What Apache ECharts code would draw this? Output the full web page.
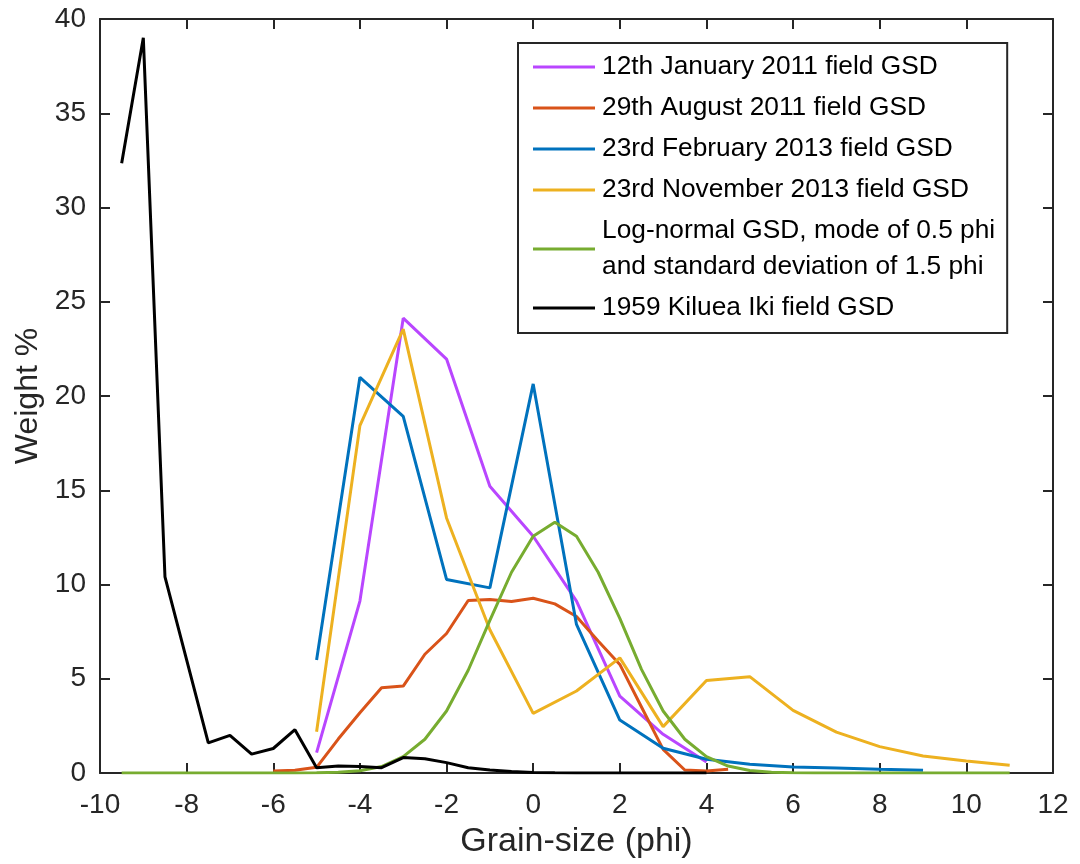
<!DOCTYPE html>
<html>
<head>
<meta charset="utf-8">
<script src="https://cdn.jsdelivr.net/npm/echarts@6/dist/echarts.min.js"></script>
<style>html,body{margin:0;padding:0;background:#fff}#c{width:1080px;height:864px}</style>
</head>
<body>
<div id="c"></div>
<script>
// ---- data ----
const seriesNames = [
  '12th January 2011 field GSD',
  '29th August 2011 field GSD',
  '23rd February 2013 field GSD',
  '23rd November 2013 field GSD',
  'Log-normal GSD, mode of 0.5 phi\nand standard deviation of 1.5 phi',
  '1959 Kiluea Iki field GSD'
];
const janX = [-5, -4, -3, -2, -1, 0, 1, 2, 3, 4];
const janY = [1.08, 9.12, 24.13, 21.96, 15.21, 12.56, 9.12, 4.08, 2.05, 0.58];

const augX = [-6, -5.5, -5, -4.5, -4, -3.5, -3, -2.5, -2, -1.5, -1, -0.5, 0, 0.5, 1, 1.5, 2, 2.5, 3, 3.5, 4, 4.5];
const augY = [0.1, 0.15, 0.3, 1.8, 3.2, 4.52, 4.61, 6.3, 7.4, 9.15, 9.2, 9.1, 9.27, 8.97, 8.3, 7.0, 5.76, 3.5, 1.25, 0.16, 0.1, 0.2];

const febX = [-5, -4, -3, -2, -1, 0, 1, 2, 3, 4, 5, 6, 7, 8, 9];
const febY = [5.99, 20.99, 18.92, 10.27, 9.82, 20.64, 7.88, 2.81, 1.31, 0.73, 0.46, 0.32, 0.27, 0.2, 0.14];

const novX = [-5, -4, -3, -2, -1, 0, 1, 2, 3, 4, 5, 6, 7, 8, 9, 10, 11];
const novY = [2.19, 18.43, 23.55, 13.53, 7.6, 3.16, 4.35, 6.11, 2.46, 4.91, 5.11, 3.32, 2.17, 1.40, 0.90, 0.64, 0.41];

const logX = [-9.5, -9, -8.5, -8, -7.5, -7, -6.5, -6, -5.5, -5, -4.5, -4, -3.5, -3, -2.5, -2, -1.5, -1, -0.5, 0, 0.5, 1, 1.5, 2, 2.5, 3, 3.5, 4, 4.5, 5, 5.5, 6, 6.5, 7, 7.5, 8, 8.5, 9, 9.5, 10, 10.5, 11];
const logY = [0, 0, 0, 0, 0, 0, 0, 0, 0, 0.01, 0.04, 0.12, 0.34, 0.87, 1.79, 3.29, 5.45, 8.1, 10.65, 12.56, 13.3, 12.56, 10.65, 8.2, 5.5, 3.29, 1.79, 0.87, 0.37, 0.13, 0.04, 0.01, 0, 0, 0, 0, 0, 0, 0, 0, 0, 0];

const kilX = [-9.5, -9, -8.5, -8, -7.5, -7, -6.5, -6, -5.5, -5, -4.5, -4, -3.5, -3, -2.5, -2, -1.5, -1, -0.5, 0, 0.5, 1, 1.5, 2, 2.5, 3, 3.5, 4];
const kilY = [32.35, 39.0, 10.4, 6.0, 1.6, 2.0, 1.0, 1.3, 2.3, 0.28, 0.37, 0.34, 0.28, 0.82, 0.76, 0.55, 0.28, 0.16, 0.08, 0.03, 0.01, 0, 0, 0, 0, 0, 0, 0];

const colors = ['#B946FF', '#D95319', '#0072BD', '#EDB120', '#77AC30', '#000000'];
const xTicks = [-10, 12, 2];
const yTicks = [0, 40, 5];

// ---- chart ----
const xs = [janX, augX, febX, novX, logX, kilX];
const ys = [janY, augY, febY, novY, logY, kilY];
const FONT = '"Liberation Sans", Arial, Helvetica, sans-serif';
const AX = '#262626';

const chart = echarts.init(document.getElementById('c'), null, {renderer: 'canvas'});

function axisCommon(showLabel, margin) {
  return {
    axisLine: {show: true, onZero: false, lineStyle: {color: AX, width: 2}},
    axisTick: {show: true, inside: true, length: 10, lineStyle: {color: AX, width: 2}},
    splitLine: {show: false},
    axisLabel: {show: showLabel, color: AX, fontFamily: FONT, fontSize: 28, margin: margin || 8}
  };
}

const option = {
  animation: false,
  backgroundColor: '#fff',
  color: colors,
  grid: {left: 100, right: 27, top: 19, bottom: 90, containLabel: false},
  legend: {
    orient: 'vertical',
    left: 518, top: 43,
    padding: [6, 12, 7, 15],
    itemWidth: 62, itemHeight: 3,
    itemGap: 5,
    borderColor: AX, borderWidth: 2,
    backgroundColor: '#fff',
    icon: 'rect',
    textStyle: {color: '#000', fontFamily: FONT, fontSize: 26.3, lineHeight: 36, padding: [0, 0, 0, 2]},
    data: seriesNames
  },
  xAxis: [
    Object.assign({type: 'value', position: 'bottom', min: xTicks[0], max: xTicks[1], interval: xTicks[2],
      name: 'Grain-size (phi)', nameLocation: 'middle', nameGap: 52,
      nameTextStyle: {color: AX, fontFamily: FONT, fontSize: 34}}, axisCommon(true, 18)),
    Object.assign({type: 'value', position: 'top', min: xTicks[0], max: xTicks[1], interval: xTicks[2]}, axisCommon(false))
  ],
  yAxis: [
    Object.assign({type: 'value', position: 'left', min: yTicks[0], max: yTicks[1], interval: yTicks[2],
      name: 'Weight %', nameLocation: 'middle', nameGap: 56,
      nameTextStyle: {color: AX, fontFamily: FONT, fontSize: 32}}, axisCommon(true, 14)),
    Object.assign({type: 'value', position: 'right', min: yTicks[0], max: yTicks[1], interval: yTicks[2]}, axisCommon(false))
  ],
  series: seriesNames.map((n, i) => ({
    name: n,
    type: 'line',
    xAxisIndex: 0, yAxisIndex: 0,
    showSymbol: false, symbol: 'none',
    lineStyle: {width: 3, color: colors[i]},
    itemStyle: {color: colors[i]},
    z: i === 5 ? 3 : 2,
    data: xs[i].map((x, k) => [x, ys[i][k]])
  }))
};
chart.setOption(option);
</script>
</body>
</html>
